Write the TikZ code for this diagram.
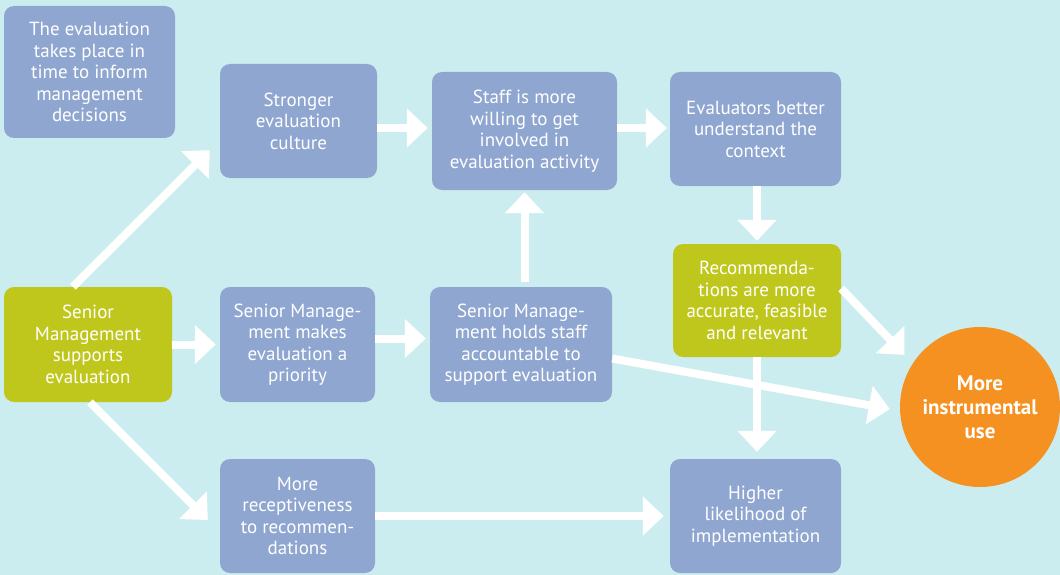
\documentclass[tikz,border=0pt]{standalone}
\usepackage{fontspec}
\setmainfont{PT Sans}
\usetikzlibrary{arrows.meta}

\definecolor{bgcyan}{RGB}{203,237,239}
\definecolor{boxblue}{RGB}{142,166,208}
\definecolor{boxgreen}{RGB}{192,199,28}
\definecolor{useorange}{RGB}{245,145,32}

\tikzset{
	stepbox/.style={fill=boxblue, rounded corners=10pt, text=white, align=center,
		inner sep=0pt, font=\fontsize{19}{21.5}\selectfont},
	keybox/.style={stepbox, fill=boxgreen},
	flow/.style={draw=white, line width=8pt, -{Triangle[width=38pt,length=21pt]}}
}

\begin{document}
\begin{tikzpicture}[x=1pt,y=-1pt]
	\fill[bgcyan] (0,0) rectangle (1060,575);
	\useasboundingbox (0,0) rectangle (1060,575);

	\node[stepbox, minimum width=171pt, minimum height=132pt] (timing) at (89.5,72) {The evaluation\\takes place in\\time to inform\\management\\decisions};
	\node[stepbox, minimum width=157pt, minimum height=114pt] (culture) at (298.5,121) {Stronger\\evaluation\\culture};
	\node[stepbox, minimum width=185pt, minimum height=118pt] (staff) at (524.5,131) {Staff is more\\willing to get\\involved in\\evaluation activity};
	\node[stepbox, minimum width=171pt, minimum height=114pt] (context) at (755.5,129) {Evaluators better\\understand the\\context};
	\node[keybox, minimum width=168pt, minimum height=113pt] (recs) at (757,300.5) {Recommenda-\\tions are more\\accurate, feasible\\and relevant};

	\node[keybox, minimum width=168pt, minimum height=115pt] (supports) at (88,344.5) {Senior\\Management\\supports\\evaluation};
	\node[stepbox, minimum width=155pt, minimum height=115pt] (priority) at (297.5,344.5) {Senior Manage-\\ment makes\\evaluation a\\priority};
	\node[stepbox, minimum width=182pt, minimum height=115pt] (holds) at (521,344.5) {Senior Manage-\\ment holds staff\\accountable to\\support evaluation};

	\node[stepbox, minimum width=155pt, minimum height=114pt] (recept) at (297.5,516) {More\\receptiveness\\to recommen-\\dations};
	\node[stepbox, minimum width=171pt, minimum height=114pt] (higher) at (755.5,516) {Higher\\likelihood of\\implementation};

	\node[circle, fill=useorange, text=white, align=center, inner sep=0pt, minimum size=160pt,
		font=\fontsize{21}{24}\selectfont\bfseries] (use) at (980,407) {More\\instrumental\\use};

	% arrows
	\draw[flow] ([xshift=-15pt]supports.north) -- ([xshift=-10pt,yshift=28pt]culture.south west);
	\draw[flow] ([xshift=2pt]supports.south) -- ([xshift=-12pt,yshift=-4pt]recept.west);
	\draw[flow, shorten >=4pt] (supports.east) -- (priority.west);
	\draw[flow, shorten >=4pt] ([yshift=6pt]priority.east) -- ([yshift=6pt]holds.west);
	\draw[flow, shorten <=5pt, shorten >=2pt] (holds.north -| staff.south) -- (staff.south);
	\draw[flow, shorten >=4pt] ([yshift=-7pt]culture.east) -- ([yshift=3pt]staff.west);
	\draw[flow, shorten >=3pt] ([yshift=3pt]staff.east) -- ([yshift=1pt]context.west);
	\draw[flow, shorten >=3pt] (context.south -| recs.north) -- (recs.north);
	\draw[flow, shorten >=7pt] (recs.south) -- (higher.north -| recs.south);
	\draw[flow] ([yshift=-14pt]holds.east) -- ([xshift=-10pt,yshift=-2pt]use.west);
	\draw[flow] ([yshift=12pt]recs.east) -- ([xshift=-6pt,yshift=12pt]use.150);
	\draw[flow, shorten >=6pt] (recept.east) -- (higher.west);
\end{tikzpicture}
\end{document}
